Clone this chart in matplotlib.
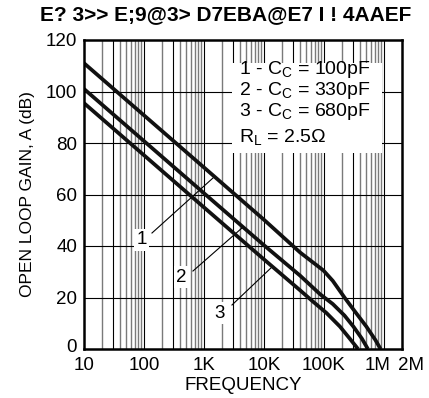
import numpy as np
import matplotlib
matplotlib.use("Agg")
import matplotlib.pyplot as plt
import matplotlib.transforms as mtransforms

plt.rcParams['font.family'] = ['Liberation Sans', 'DejaVu Sans']
plt.rcParams['mathtext.fontset'] = 'custom'
plt.rcParams['mathtext.rm'] = 'Liberation Sans'
plt.rcParams['mathtext.it'] = 'Liberation Sans'

title = "E? 3>> E;9@3> D7EBA@E7 I ! 4AAEF"

# Curve data (frequency in Hz, gain in dB)
f1 = [10, 1e3, 1e4, 4.0e4, 9.8e4, 1.4e5, 2.2e5, 3.3e5, 5.1e5, 7.2e5, 8.8e5]
g1 = [111, 70.5, 50.2, 37.5, 30.5, 26.5, 20.0, 14.5, 8.7, 3.5, 0]
f2 = [10, 1e3, 1e4, 4.0e4, 8.6e4, 1.4e5, 2.2e5, 3.1e5, 4.3e5, 5.4e5]
g2 = [101, 60.5, 40.3, 28.5, 21.3, 17.5, 13.0, 8.7, 4.0, 0]
f3 = [10, 1e3, 1e4, 4.0e4, 6.5e4, 1.1e5, 1.85e5, 2.7e5, 3.7e5]
g3 = [95.5, 55.0, 34.8, 22.8, 18.5, 14.0, 8.7, 4.0, 0]

xtick_vals = [10, 100, 1e3, 1e4, 1e5, 1e6, 2e6]
xtick_labels = ["10", "100", "1K", "10K", "100K", "1M", "2M"]
ytick_vals = [0, 20, 40, 60, 80, 100, 120]

legend_lines = [r"1 - C$_\mathregular{C}$ = 100pF",
                r"2 - C$_\mathregular{C}$ = 330pF",
                r"3 - C$_\mathregular{C}$ = 680pF",
                r"R$_\mathregular{L}$ = 2.5Ω"]

curve_labels = ["1", "2", "3"]

FS = 13.5

fig = plt.figure(figsize=(4.29, 3.98), dpi=100)
ax = fig.add_axes([84/429, 49/398, 318/429, 309/398])
ax.set_xscale('log')
ax.set_xlim(10, 2e6)
ax.set_ylim(0, 120)

# grid
for dec in [10, 100, 1e3, 1e4, 1e5, 1e6]:
    for m in range(1, 10):
        v = dec * m
        if v <= 10 or v >= 2e6:
            continue
        if m in (1, 3):
            ax.axvline(v, color='black', lw=0.8, zorder=1)
        else:
            ax.axvline(v, color='#7a7a7a', lw=1.0, zorder=1)
for y in ytick_vals[1:-1]:
    ax.axhline(y, color='black', lw=0.8, zorder=1)

# legend box (white, no edge)
ax.add_patch(plt.Rectangle((0.465, 0.634), 0.472, 0.292, transform=ax.transAxes,
                           facecolor='white', edgecolor='none', zorder=2))
ys = [0.905, 0.836, 0.767, 0.687]
for t, yy in zip(legend_lines, ys):
    ax.text(0.487, yy, t, transform=ax.transAxes, fontsize=14, va='center',
            ha='left', zorder=3)

# curves
for f, g in [(f1, g1), (f2, g2), (f3, g3)]:
    ax.plot(f, g, color='#111111', lw=2.7, zorder=4, solid_capstyle='butt',
            solid_joinstyle='round')

# curve labels with leader lines
def px2data(px, py):
    lx = 1 + (px - 84) / 60.0
    gy = (349 - py) / 2.575
    return 10 ** lx, gy

lab_pos = [(141.7, 240), (181.7, 277), (220, 313)]
lead = [((152, 233), (213, 178)), ((193, 271), (242, 228)), ((232, 305), (272, 267))]
for t, (px, py), (a, b) in zip(curve_labels, lab_pos, lead):
    x0, y0 = px2data(*a)
    x1, y1 = px2data(*b)
    ax.plot([x0, x1], [y0, y1], color='black', lw=0.8, zorder=3)
    xx, yy = px2data(px, py)
    ax.text(xx, yy, t, fontsize=FS, ha='center', va='center', zorder=5,
            bbox=dict(facecolor='white', edgecolor='none', pad=1.5))

ax.set_xticks(xtick_vals)
ax.set_xticklabels(xtick_labels)
ax.xaxis.set_minor_locator(matplotlib.ticker.NullLocator())
ax.set_yticks(ytick_vals)
ax.tick_params(length=0, labelsize=FS, pad=5)
ax.tick_params(axis='x', pad=6)

labs = ax.get_xticklabels()
offsets = {"1M": -6/100, "2M": 9/100}
for lab in labs:
    if lab.get_text() in offsets:
        lab.set_transform(lab.get_transform() +
                          mtransforms.ScaledTranslation(offsets[lab.get_text()], 0, fig.dpi_scale_trans))
for lab in ax.get_yticklabels():
    if lab.get_text() == "0":
        lab.set_transform(lab.get_transform() +
                          mtransforms.ScaledTranslation(0, 4/100, fig.dpi_scale_trans))

for s in ax.spines.values():
    s.set_linewidth(1.8)
    s.set_zorder(6)

ax.set_xlabel("FREQUENCY", fontsize=FS, labelpad=2)
ax.set_ylabel("OPEN LOOP GAIN, A (dB)", fontsize=12.5, labelpad=8)
fig.text(0.525, 0.963, title, ha='center', va='center', fontsize=15, fontweight='bold')

fig.savefig("out.png", dpi=100)
